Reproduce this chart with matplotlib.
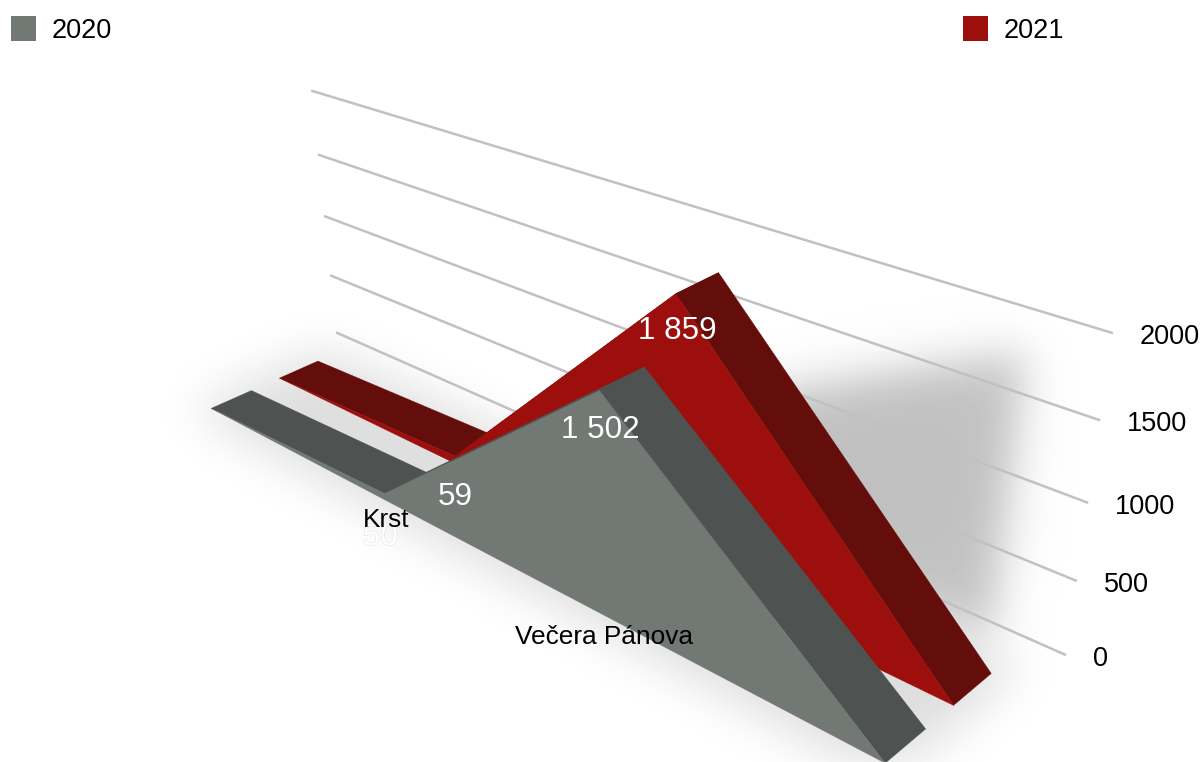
import numpy as np
from matplotlib import pyplot as plt
from matplotlib.patches import Rectangle
from matplotlib.path import Path
from matplotlib import patheffects
from mpl_toolkits.mplot3d import proj3d
from mpl_toolkits.mplot3d.art3d import Poly3DCollection

categories = ['', 'Krst', 'Večera Pánova', '']
values_2020 = [0, 50, 1502, 0]
values_2021 = [0, 59, 1859, 0]
grid_values = [0, 500, 1000, 1500, 2000]

W, H = 1202, 762
FONT = 'Liberation Sans'
GRAY_FRONT, GRAY_TOP = '#727874', '#4e5250'
RED_FRONT, RED_TOP = '#9c0f0c', '#640e0b'
GRID = '#c2c0c0'

# depth position of each ribbon and of the back wall
Y_2020 = (0.0, 0.064)
Y_2021 = (0.110, 0.175)
Y_WALL = 0.247
X_WALL = (-0.142, 3.112)


def fmt(v):
    return '{:,}'.format(v).replace(',', ' ')


def draw_series(ax, values, ys, front, top, z):
    xs = np.arange(len(values))
    y0, y1 = ys
    for i in range(len(values) - 1):
        quad = [(xs[i], y0, values[i]), (xs[i+1], y0, values[i+1]),
                (xs[i+1], y1, values[i+1]), (xs[i], y1, values[i])]
        ax.add_collection3d(Poly3DCollection([quad], facecolor=top, edgecolor=top,
                                             linewidth=0.3, zorder=z))
    face = [(x, y0, v) for x, v in zip(xs, values)]
    ax.add_collection3d(Poly3DCollection([face], facecolor=front, edgecolor=front,
                                         linewidth=0.3, zorder=z + 1))


def blur(img, sigma):
    # pad so the fft does not wrap the shadow round the picture
    pad = int(4 * sigma)
    padded = np.pad(img, pad)
    fy = np.fft.fftfreq(padded.shape[0])[:, None]
    fx = np.fft.rfftfreq(padded.shape[1])[None, :]
    kernel = np.exp(-2 * (np.pi * sigma) ** 2 * (fx ** 2 + fy ** 2))
    out = np.fft.irfft2(np.fft.rfft2(padded) * kernel, s=padded.shape)
    return out[pad:-pad, pad:-pad]


def to_pixels(ax, pts):
    pts = np.array(pts, dtype=float)
    tx, ty, _ = proj3d.proj_transform(pts[:, 0], pts[:, 1], pts[:, 2], ax.get_proj())
    return ax.transData.transform(np.column_stack([tx, ty]))


def mask_of(ax, pts):
    xx, yy = np.meshgrid(np.arange(W) + 0.5, np.arange(H) + 0.5)
    inside = Path(to_pixels(ax, pts)).contains_points(np.column_stack([xx.ravel(), yy.ravel()]))
    return inside.reshape(H, W).astype(float)


def label_at(ax, x, y, z, s, dx=0, dy=0, **kw):
    # text goes on the figure, at the projected point plus an offset in pixels
    p = to_pixels(ax, [(x, y, z)])[0]
    return fig.text((p[0] + dx) / W, (p[1] + dy) / H, s, family=FONT, **kw)


fig = plt.figure(figsize=(W / 100, H / 100), dpi=100)
side, px, py = 1572, 498, 334
ax = fig.add_axes([(px - 0.5135 * side) / W, (py - 0.5135 * side) / H, side / W, side / H],
                  projection='3d')
ax.computed_zorder = False
ax.set_box_aspect((1, 1, 1))
ax.set_proj_type('persp', focal_length=0.198)
ax.view_init(elev=29, azim=-43, roll=3)
ax.set_xlim(-0.0473, 2.911, view_margin=0)
ax.set_ylim(-0.4534, 0.5466, view_margin=0)
ax.set_zlim(-2168, 3652, view_margin=0)
ax.set_axis_off()
ax.patch.set_visible(False)

for g in grid_values:
    ax.plot(X_WALL, [Y_WALL, Y_WALL], [g, g], color=GRID, lw=1.8, zorder=2,
            solid_capstyle='butt')

draw_series(ax, values_2021, Y_2021, RED_FRONT, RED_TOP, 5)
draw_series(ax, values_2020, Y_2020, GRAY_FRONT, GRAY_TOP, 8)

fig.canvas.draw()

for g in grid_values:
    label_at(ax, X_WALL[1], Y_WALL, g, str(g), dx=27, dy=-4, ha='left', va='center',
             fontsize=19.5, color='black', zorder=20)

# value labels sit a little under the front edge of the ribbon
label_kw = dict(ha='center', va='center', fontsize=22.6, color='white', zorder=15)
label_at(ax, 2, Y_2021[0], values_2021[2], fmt(values_2021[2]), dx=2, dy=-38, **label_kw)
label_at(ax, 2, Y_2020[0], values_2020[2], fmt(values_2020[2]), dx=1, dy=-40, **label_kw)
label_at(ax, 1, Y_2021[0], values_2021[1], fmt(values_2021[1]), dx=1, dy=-41, **label_kw)
t = label_at(ax, 1, Y_2020[0], values_2020[1], fmt(values_2020[1]), dx=-4, dy=-44, **label_kw)
t.set_path_effects([patheffects.withStroke(linewidth=0.6, foreground='#dddddd')])

label_at(ax, 1, Y_2020[0], values_2020[1], categories[1], dx=2, dy=-27, ha='center', va='center',
         fontsize=18.9, color='black', zorder=16)
label_at(ax, 2, Y_2020[0], 0, categories[2], dx=1, dy=-22, ha='center', va='center',
         fontsize=18.9, color='black', zorder=16)

# legend
for x0, name, col in [(11, '2020', GRAY_FRONT), (963, '2021', RED_FRONT)]:
    fig.add_artist(Rectangle((x0 / W, 1 - 41 / H), 25 / W, 25 / H, color=col,
                             transform=fig.transFigure, lw=0))
    fig.text((x0 + 41) / W, 1 - 31 / H, name, ha='left', va='center', fontsize=19.5,
             family=FONT, color='black')

# soft shadows on wall and floor, built from the same projection
wall = mask_of(ax, [(2.0, Y_WALL, 900), (2.88, Y_WALL, 1750),
                    (2.88, Y_WALL, -100), (2.0, Y_WALL, -100)])
floor = mask_of(ax, [(-0.05, -0.02, 0), (3.05, -0.02, 0), (3.05, 0.2, 0), (-0.05, 0.2, 0)])
shade = 1 - 0.21 * blur(wall, 20) - 0.04 * blur(wall, 50) - 0.13 * blur(floor, 24)
bg = fig.add_axes([0, 0, 1, 1], zorder=-1)
bg.imshow(shade, cmap='gray', vmin=0, vmax=1, origin='lower', aspect='auto',
          extent=(0, W, 0, H), interpolation='bilinear')
bg.set_axis_off()

fig.savefig('out.png', dpi=100)
